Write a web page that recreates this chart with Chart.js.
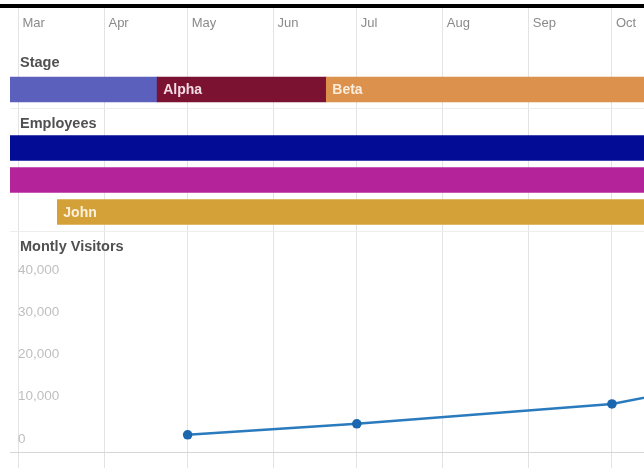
<!DOCTYPE html>
<html>
<head>
<meta charset="utf-8">
<script src="https://cdn.jsdelivr.net/npm/chart.js@4.4.1/dist/chart.umd.min.js"></script>
<style>
  html, body { margin: 0; padding: 0; background: #ffffff; }
  #topline { position: absolute; left: 0; top: 4px; width: 644px; height: 3.5px; background: #000; }
  #wrap { position: absolute; left: 0; top: 8px; width: 644px; height: 460px; }
</style>
</head>
<body>
<div id="topline"></div>
<div id="wrap"><canvas id="c"></canvas></div>
<script>
// ---------- DATA ----------
const monthStarts = ['2015-03-01','2015-04-01','2015-05-01','2015-06-01','2015-07-01','2015-08-01','2015-09-01','2015-10-01'];
const monthLabels = ['Mar','Apr','May','Jun','Jul','Aug','Sep','Oct'];

const sectionTitles = ['Stage', 'Employees', 'Montly Visitors'];

const stageNames = ['', 'Alpha', 'Beta'];
const stageStart = ['2015-02-01', '2015-04-20', '2015-06-20'];
const stageEnd   = ['2015-04-20', '2015-06-20', '2015-12-31'];

const employeeNames = ['', '', 'John'];
const employeeStart = ['2015-02-01', '2015-02-01', '2015-03-15'];
const employeeEnd   = ['2015-12-31', '2015-12-31', '2015-12-31'];

const visitorDates  = ['2015-05-01', '2015-07-01', '2015-10-01', '2015-11-01'];
const visitorValues = [1000, 3600, 8300, 12200];
const visitorTicks  = [0, 10000, 20000, 30000, 40000];

// ---------- STYLE / LAYOUT ----------
const stageColors = ['#5b60bd', '#7c1232', '#dc924d'];
const employeeColors = ['#030c95', '#b4239a', '#d4a038'];
const LAYOUT = {
  xMinPx: 10, day0Px: 18.5, pxPerDay: 2.773, rightPx: 644,
  top: 8, bottom: 468,
  stageRow: 89.5,
  employeeRows: [148, 180, 212],
  titleX: 20,
  titleY: [63, 124, 247],
  separators: [108, 231, 452],
  zeroPx: 439, pxPer10k: 42.25
};

const BASE = Date.parse('2015-03-01');
const toDay = s => (Date.parse(s) - BASE) / 864e5;

const xMin = -(LAYOUT.day0Px - LAYOUT.xMinPx) / LAYOUT.pxPerDay;
const xMax = (LAYOUT.rightPx - LAYOUT.day0Px) / LAYOUT.pxPerDay;
const yvMax = (LAYOUT.zeroPx - LAYOUT.top) / LAYOUT.pxPer10k * 10000;
const yvMin = -(LAYOUT.bottom - LAYOUT.zeroPx) / LAYOUT.pxPer10k * 10000;

const FONT = '"Liberation Sans", Arial, sans-serif';

const overlay = {
  id: 'overlay',
  afterDatasetsDraw(chart) {
    const { ctx } = chart;
    const yg = chart.scales.yg;
    ctx.save();
    ctx.textAlign = 'left';
    ctx.textBaseline = 'middle';
    ctx.font = 'bold 14.5px ' + FONT;
    ctx.fillStyle = '#505050';
    sectionTitles.forEach((t, i) => {
      ctx.fillText(t, LAYOUT.titleX, yg.getPixelForValue(LAYOUT.titleY[i]));
    });
    ctx.font = 'bold 14px ' + FONT;
    chart.data.datasets.forEach((ds, di) => {
      if (!ds.barLabels) return;
      const meta = chart.getDatasetMeta(di);
      meta.data.forEach((bar, j) => {
        const t = ds.barLabels[j];
        if (!t) return;
        const p = bar.getProps(['x', 'base', 'y'], true);
        ctx.fillStyle = ds.labelColors[j];
        ctx.fillText(t, Math.min(p.x, p.base) + 6, p.y + 1);
      });
    });
    ctx.restore();
  }
};

const noPadV = s => { s.width = 0; s.paddingTop = 0; s.paddingBottom = 0; };
const noPadH = s => { s.height = 0; s.paddingLeft = 0; s.paddingRight = 0; };

new Chart(document.getElementById('c'), {
  type: 'line',
  data: {
    datasets: [
      {
        type: 'bar', indexAxis: 'y', xAxisID: 'x', yAxisID: 'yg', grouped: false,
        data: stageStart.map((s, i) => ({ x: [toDay(s), toDay(stageEnd[i])], y: LAYOUT.stageRow })),
        backgroundColor: stageColors, borderWidth: 0, barThickness: 25,
        barLabels: stageNames, labelColors: ['#fff', '#f3dbe3', '#fbecdc']
      },
      {
        type: 'bar', indexAxis: 'y', xAxisID: 'x', yAxisID: 'yg', grouped: false,
        data: employeeStart.map((s, i) => ({ x: [toDay(s), toDay(employeeEnd[i])], y: LAYOUT.employeeRows[i] })),
        backgroundColor: employeeColors, borderWidth: 0, barThickness: 25,
        barLabels: employeeNames, labelColors: ['#fff', '#fff', '#fbf1dc']
      },
      {
        type: 'line', xAxisID: 'x', yAxisID: 'yv',
        data: visitorDates.map((d, i) => ({ x: toDay(d), y: visitorValues[i] })),
        borderColor: '#2a7bbd', borderWidth: 2.5, tension: 0,
        pointRadius: 4.8, pointBackgroundColor: '#1a67b0', pointBorderWidth: 0,
        fill: false
      }
    ]
  },
  options: {
    responsive: true,
    maintainAspectRatio: false,
    animation: false,
    events: [],
    layout: { autoPadding: false, padding: { left: LAYOUT.xMinPx, right: 0, top: 0, bottom: 0 } },
    plugins: { legend: { display: false }, tooltip: { enabled: false } },
    scales: {
      x: {
        type: 'linear', position: 'top', min: xMin, max: xMax, offset: false, beginAtZero: false,
        grid: { color: '#e3e3e3', lineWidth: 1, drawTicks: false, offset: false },
        border: { display: false },
        afterBuildTicks: s => { s.ticks = monthStarts.map(d => ({ value: toDay(d) })); },
        afterFit: noPadH,
        ticks: {
          autoSkip: false, maxRotation: 0, minRotation: 0, align: 'start', labelOffset: 4,
          mirror: true, padding: 8,
          color: '#8a8a8a', font: { family: FONT, size: 13 },
          callback: (v, i) => monthLabels[i]
        }
      },
      yg: {
        type: 'linear', position: 'left', min: LAYOUT.top, max: LAYOUT.bottom, reverse: true,
        beginAtZero: false, offset: false,
        grid: { drawTicks: false, offset: false, color: c => (c.tick && c.tick.value === 452) ? '#d6d6d6' : '#ededed' },
        border: { display: false },
        afterBuildTicks: s => { s.ticks = LAYOUT.separators.map(v => ({ value: v })); },
        afterFit: noPadV,
        ticks: { display: false }
      },
      yv: {
        type: 'linear', position: 'left', min: yvMin, max: yvMax, beginAtZero: false, offset: false,
        grid: { display: false, drawTicks: false },
        border: { display: false },
        afterBuildTicks: s => { s.ticks = visitorTicks.map(v => ({ value: v })); },
        afterFit: noPadV,
        ticks: {
          mirror: true, padding: 8, color: '#bfbfbf',
          font: { family: FONT, size: 13.5 },
          callback: v => v.toLocaleString('en-US')
        }
      }
    }
  },
  plugins: [overlay]
});
</script>
</body>
</html>
